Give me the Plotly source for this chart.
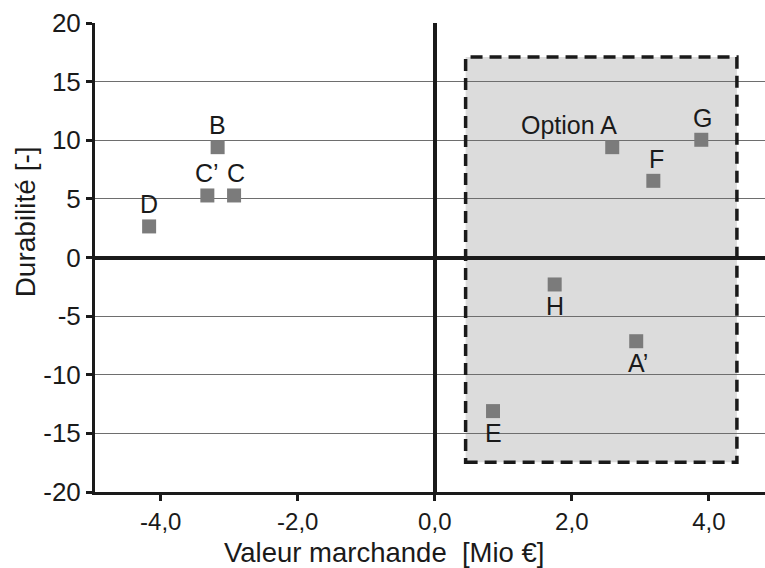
import plotly.graph_objects as go

# ---- data ----
labels = ["D", "B", "C’", "C", "Option A", "F", "G", "H", "A’", "E"]
valeur = [-4.17, -3.17, -3.32, -2.93, 2.59, 3.19, 3.89, 1.75, 2.94, 0.85]
durabilite = [2.65, 9.41, 5.29, 5.29, 9.41, 6.54, 10.04, -2.30, -7.14, -13.1]
x_tickvals = [-4, -2, 0, 2, 4]
x_ticktext = ["-4,0", "-2,0", "0,0", "2,0", "4,0"]
y_tickvals = [-20, -15, -10, -5, 0, 5, 10, 15, 20]
y_ticktext = ["-20", "-15", "-10", "-5", "0", "5", "10", "15", "20"]
region_x = [0.45, 4.41]
region_y = [-17.47, 17.1]
x_title = "Valeur marchande  [Mio €]"
y_title = "Durabilité [-]"

# label placement style (above / below, anchor, horizontal nudge)
label_style = {
    "D": ("above", "center", 0),
    "B": ("above", "center", 0),
    "C’": ("above", "center", 0),
    "C": ("above", "center", 2),
    "Option A": ("above", "right", 7),
    "F": ("above", "center", 3),
    "G": ("above", "center", 1),
    "H": ("below", "center", 0),
    "A’": ("below", "center", 2),
    "E": ("below", "center", 0),
}

FONT = "Liberation Sans, Arial, sans-serif"
INK = "#1a1a1a"

fig = go.Figure()
fig.add_trace(go.Scatter(
    x=valeur, y=durabilite, mode="markers",
    marker=dict(symbol="square", size=14, color="#7b7b7b", line=dict(width=0)),
    hoverinfo="skip", showlegend=False,
))

for lab, xv, yv in zip(labels, valeur, durabilite):
    pos, anchor, xs = label_style[lab]
    fig.add_annotation(
        x=xv, y=yv, text=lab, showarrow=False,
        xanchor=anchor, yanchor="middle", xshift=xs,
        yshift=22 if pos == "above" else -22,
        font=dict(family=FONT, size=25, color=INK),
    )

# axis titles placed as annotations (offset from plot centre like the reference)
fig.add_annotation(x=0.432, y=-0.1285, xref="paper", yref="paper", text=x_title,
                   showarrow=False, xanchor="center", yanchor="middle",
                   font=dict(family=FONT, size=27.5, color=INK))
fig.add_annotation(x=-0.1045, y=0.577, xref="paper", yref="paper", text=y_title,
                   showarrow=False, xanchor="center", yanchor="middle", textangle=-90,
                   font=dict(family=FONT, size=28, color=INK))

# shaded region
fig.add_shape(type="rect", xref="x", yref="y",
              x0=region_x[0], x1=region_x[1], y0=region_y[0], y1=region_y[1],
              fillcolor="#dcdcdc", line=dict(width=0), layer="below")
fig.add_shape(type="rect", xref="x", yref="y",
              x0=region_x[0], x1=region_x[1], y0=region_y[0], y1=region_y[1],
              fillcolor="rgba(0,0,0,0)",
              line=dict(color=INK, width=3.5, dash="12px,7px"), layer="above")

fig.update_layout(
    width=765, height=568,
    margin=dict(l=95, r=0, t=23, b=76),
    paper_bgcolor="white", plot_bgcolor="white",
    font=dict(family=FONT, color=INK),
    xaxis=dict(
        range=[-4.96, 4.82], tickvals=x_tickvals, ticktext=x_ticktext,
        showgrid=False, zeroline=True, zerolinecolor=INK, zerolinewidth=3.5,
        showline=True, linecolor=INK, linewidth=3,
        ticks="outside", ticklen=6, tickwidth=3, tickcolor=INK,
        tickfont=dict(size=24, family=FONT, color=INK),
    ),
    yaxis=dict(
        range=[-20, 20], tickvals=y_tickvals, ticktext=y_ticktext,
        showgrid=True, gridcolor="#6e6e6e", gridwidth=1,
        zeroline=True, zerolinecolor=INK, zerolinewidth=3.5,
        showline=True, linecolor=INK, linewidth=3,
        ticks="outside", ticklen=6, tickwidth=3, tickcolor=INK,
        tickfont=dict(size=26, family=FONT, color=INK),
    ),
)

fig.write_html("out.html", config={"displayModeBar": False},
               post_script="document.body.style.margin='0';document.body.style.overflow='hidden';")
